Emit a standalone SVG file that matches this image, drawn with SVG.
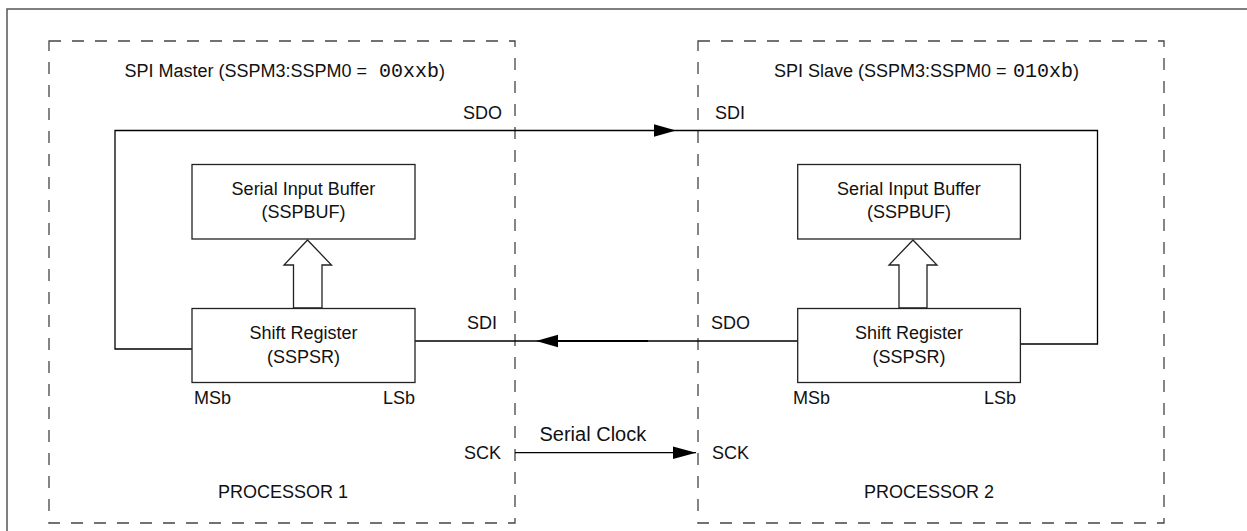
<svg xmlns="http://www.w3.org/2000/svg" width="1247" height="531" viewBox="0 0 1247 531">
<style>
text{font-family:"Liberation Sans",Arial,sans-serif;font-size:18px;fill:#111}
.mono{font-family:"Liberation Mono","Courier New",monospace;font-size:20px}
.mid{text-anchor:middle}
.end{text-anchor:end}
.frame{fill:none;stroke:#555;stroke-width:1.5}
.dash{fill:none;stroke:#444;stroke-width:1.3;stroke-dasharray:12 11}
.box{fill:#fff;stroke:#222;stroke-width:1.3}
.wire{fill:none;stroke:#000;stroke-width:1.3}
.head{fill:#000;stroke:none}
.hollow{fill:#fff;stroke:#222;stroke-width:1.3;stroke-linejoin:miter}
</style>
<rect width="1247" height="531" fill="#fff"/>
<rect class="frame" x="7" y="9" width="1300" height="600"/>

<g id="processor1">
<rect class="dash" x="49" y="41" width="466" height="482"/>
<text x="124.5" y="77">SPI Master (SSPM3:SSPM0 = <tspan class="mono" x="379">00xxb</tspan>)</text>
<text class="mid" x="283" y="498">PROCESSOR 1</text>
</g>

<g id="processor2">
<rect class="dash" x="698" y="41" width="466" height="482"/>
<text x="774" y="77">SPI Slave (SSPM3:SSPM0 = <tspan class="mono" x="1013">010xb</tspan>)</text>
<text class="mid" x="929" y="498">PROCESSOR 2</text>
</g>

<g id="connectors">
<polyline class="wire" points="192,349 115,349 115,130.5 1097.5,130.5 1097.5,344 1020,344"/>
<polygon class="head" points="654,124.2 676,130.5 654,136.8"/>
<line class="wire" x1="798" y1="341" x2="415" y2="341"/>
<line x1="557" y1="341" x2="648" y2="341" stroke="#000" stroke-width="2"/>
<polygon class="head" points="558,334.7 536,341 558,347.3"/>
<line class="wire" x1="515" y1="452.7" x2="696" y2="452.7"/>
<polygon class="head" points="673,446.4 696,452.7 673,459"/>
<polygon class="hollow" points="307.5,240 331.5,265 322,265 322,308 293.5,308 293.5,265 284,265"/>
<polygon class="hollow" points="913,240 937,265 927,265 927,308 899,308 899,265 889,265"/>
<text class="end" x="502" y="119">SDO</text>
<text x="715" y="119">SDI</text>
<text class="end" x="497" y="329">SDI</text>
<text x="711" y="329">SDO</text>
<text class="end" x="501" y="459">SCK</text>
<text x="712" y="459">SCK</text>
<text x="539.5" y="440.5" style="font-size:20px">Serial Clock</text>
</g>

<g id="master-buffer">
<rect class="box" x="192" y="164.5" width="223" height="74.5"/>
<text class="mid" x="303.5" y="195">Serial Input Buffer</text>
<text class="mid" x="303.5" y="217.5">(SSPBUF)</text>
</g>

<g id="master-shift">
<rect class="box" x="192" y="308.5" width="223" height="74"/>
<text class="mid" x="303.5" y="338.5">Shift Register</text>
<text class="mid" x="303.5" y="362.5">(SSPSR)</text>
<text x="194" y="404">MSb</text>
<text class="end" x="415" y="404">LSb</text>
</g>

<g id="slave-buffer">
<rect class="box" x="797.7" y="164.5" width="222.7" height="74.5"/>
<text class="mid" x="909" y="195">Serial Input Buffer</text>
<text class="mid" x="909" y="217.5">(SSPBUF)</text>
</g>

<g id="slave-shift">
<rect class="box" x="797.7" y="308.5" width="222.7" height="74"/>
<text class="mid" x="909" y="338.5">Shift Register</text>
<text class="mid" x="909" y="362.5">(SSPSR)</text>
<text x="793" y="404">MSb</text>
<text class="end" x="1016" y="404">LSb</text>
</g>
</svg>
